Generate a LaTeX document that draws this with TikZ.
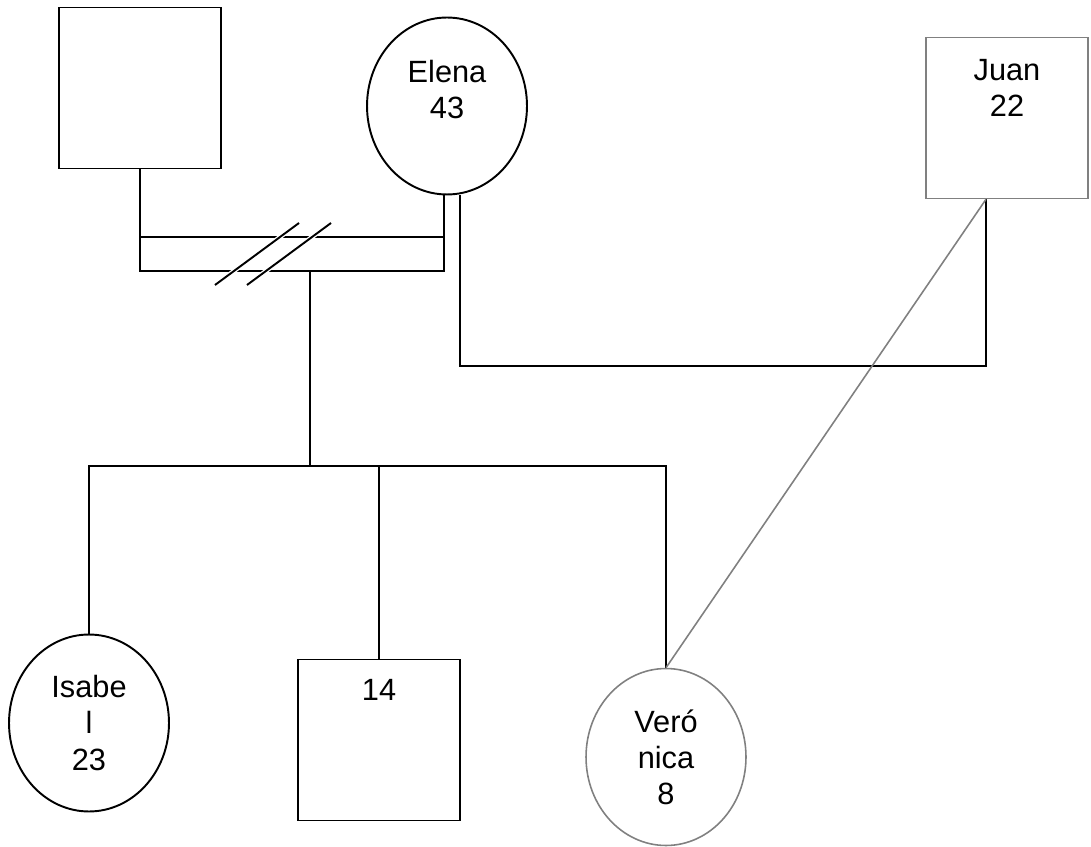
\documentclass[tikz,border=0pt]{standalone}
\usepackage{fontspec}
\setmainfont{Liberation Sans}
\usetikzlibrary{shapes.geometric}

\begin{document}
\begin{tikzpicture}[x=.02cm,y=-.02cm,
  male/.style={draw,rectangle,minimum width=3.24cm,minimum height=3.22cm},
  female/.style={draw,ellipse,minimum width=3.2cm,minimum height=3.54cm},
  tie/.style={line width=1.1pt},
  faint/.style={draw=black!50,line width=.9pt},
  who/.style={align=center,font=\fontsize{17.5}{20.5}\selectfont}]
\useasboundingbox (0,0) rectangle (1091,847);

% people
\node[male,tie] (dad) at (140,88) {};
\node[female,tie] (elena) at (447,106) {};
\node[male,faint] (juan) at (1007,118) {};
\node[female,tie] (isabel) at (89,723) {};
\node[male,tie] (son) at (379,740) {};
\node[female,faint] (vero) at (666,757) {};

\node[who] (elena-t) at ([yshift=.32cm]elena.center) {Elena\\43};
\node[who] (juan-t) at ([yshift=.6cm]juan.center) {Juan\\22};
\node[who] (son-t) at ([yshift=1cm]son.center) {14};
\node[who] (isabel-t) at (isabel.center) {Isabe\\l\\23};
\node[who] (vero-t) at (vero.center) {Veró\\nica\\8};

\coordinate (top) at (0,237);
\coordinate (bot) at (0,271);
\coordinate (low) at (0,366);
\coordinate (sib) at (0,466);
\coordinate (kid) at (310,0);
\coordinate (eL) at ([xshift=-.06cm]elena.south);
\coordinate (eR) at ([xshift=.26cm]elena.south);
\coordinate (jL) at ([xshift=-.42cm]juan.south);

% divorced couple
\draw[tie] (dad.south) -- (dad.south |- bot) -- (eL |- bot) -- (eL);
\draw[tie] (dad.south |- top) -- (eL |- top);
\foreach \dx in {0,32}
  \draw[tie,preaction={draw=white,line width=2.6pt}] (215+\dx,285) -- (299+\dx,223);

% children
\draw[tie] (kid |- bot) -- (kid |- sib);
\draw[tie] (isabel.north) -- (isabel.north |- sib) -- (vero.north |- sib) -- (vero.north);
\draw[tie] (son.north) -- (son.north |- sib);

% Elena and Juan
\draw[tie] (eR) -- (eR |- low) -| (jL);
\draw[faint] (jL) -- (vero.north);
\end{tikzpicture}
\end{document}
